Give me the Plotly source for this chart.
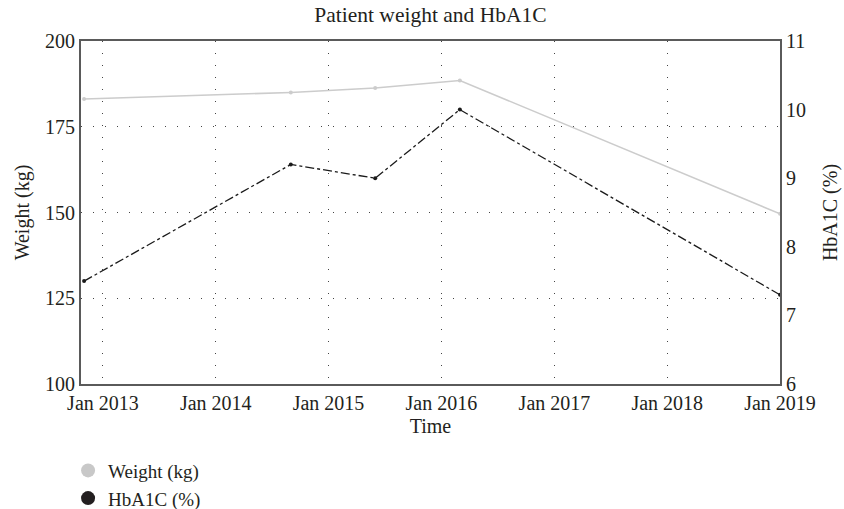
import plotly.graph_objects as go

dates = ["2012-11-01", "2014-09-01", "2015-06-01", "2016-03-01", "2019-01-01"]
weight = [183.1, 185.0, 186.3, 188.5, 149.6]
hba1c = [7.5, 9.2, 9.0, 10.0, 7.3]

FONT = "Liberation Serif"
TXT = "#231f20"
fig = go.Figure()

fig.add_trace(go.Scatter(x=dates, y=weight, mode="lines+markers", name="Weight (kg)",
                         line=dict(color="#cccccc", width=1.6),
                         marker=dict(color="#cccccc", size=4), showlegend=False))
fig.add_trace(go.Scatter(x=dates, y=hba1c, mode="lines+markers", name="HbA1C (%)", yaxis="y2",
                         line=dict(color="#1a1a1a", width=1.3, dash="dashdot"),
                         marker=dict(color="#1a1a1a", size=4), showlegend=False))
# legend entries
fig.add_trace(go.Scatter(x=[None], y=[None], mode="markers", name="Weight (kg)",
                         marker=dict(color="#c8c8c8", size=14)))
fig.add_trace(go.Scatter(x=[None], y=[None], mode="markers", name="HbA1C (%)",
                         marker=dict(color="#231f20", size=14)))

axis_line = dict(showline=True, linecolor="#5a5a5a", linewidth=2, ticks="",
                 tickfont=dict(family=FONT, size=20, color=TXT),
                 zeroline=False, automargin=False)

fig.update_layout(
    width=844, height=509,
    margin=dict(l=81, r=64, t=41, b=125, autoexpand=False),
    paper_bgcolor="white", plot_bgcolor="white",
    font=dict(family=FONT, size=20, color=TXT),
    title=dict(text="Patient weight and HbA1C", x=0.51, xanchor="center",
               y=1 - 14 / 509, yanchor="middle",
               font=dict(family=FONT, size=21.5, color=TXT)),
    xaxis=dict(axis_line, type="date", range=["2012-10-22", "2019-01-01"],
               tick0="2013-01-01", dtick="M12", tickformat="%b %Y",
               showgrid=True, gridcolor="#444444", gridwidth=1, griddash="1px,11px",
               mirror=True,
               title=dict(text="Time", font=dict(family=FONT, size=20), standoff=6)),
    yaxis=dict(axis_line, range=[100, 200], dtick=25, showgrid=True, gridcolor="#444444",
               gridwidth=1, griddash="1px,11px",
               title=dict(text="Weight (kg)", font=dict(family=FONT, size=20), standoff=10)),
    yaxis2=dict(axis_line, range=[6, 11], dtick=1, overlaying="y", side="right", showgrid=False,
                title=dict(text="HbA1C (%)", font=dict(family=FONT, size=20), standoff=18)),
    legend=dict(x=-0.0185, y=-0.197, xanchor="left", yanchor="top", orientation="v",
                tracegroupgap=0, font=dict(family=FONT, size=19, color=TXT)),
)

fig.write_html("out.html", config={"displayModeBar": False},
               post_script="document.body.style.margin='0';document.body.style.overflow='hidden';")
